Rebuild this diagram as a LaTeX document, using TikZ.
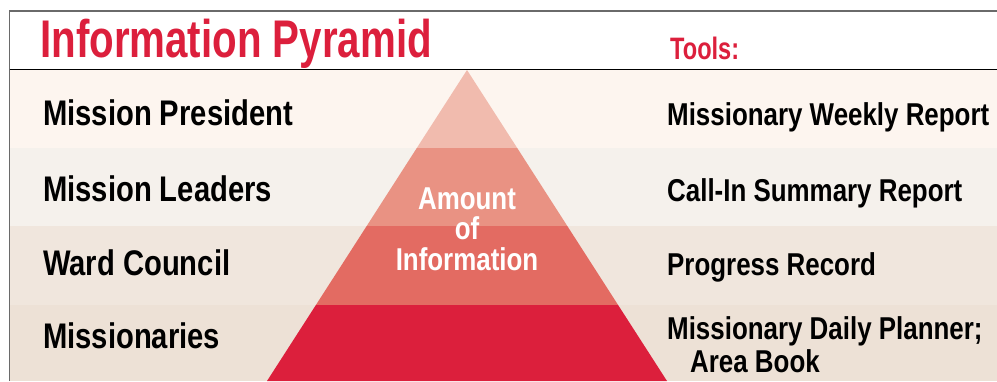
\documentclass[tikz,border=0pt]{standalone}
\usepackage{fontspec}
\newfontfamily\condT[FakeStretch=0.76]{Liberation Sans}
\newfontfamily\condL[FakeStretch=0.82]{Liberation Sans}
\definecolor{pred}{HTML}{DC1F3C}
\definecolor{bandA}{HTML}{FDF5EF}
\definecolor{bandB}{HTML}{F5F1EC}
\definecolor{bandC}{HTML}{F0E6DD}
\definecolor{bandD}{HTML}{EDE1D6}
\definecolor{tierA}{HTML}{F1BBAE}
\definecolor{tierB}{HTML}{E99283}
\definecolor{tierC}{HTML}{E36B62}
\definecolor{tierD}{HTML}{DC1F3C}
\definecolor{framegray}{HTML}{6A6A6A}
\tikzset{
  lbl/.style={anchor=base west, inner sep=0pt, text=black, font=\condL\bfseries\fontsize{35.6}{38}\selectfont},
  rlbl/.style={anchor=base west, inner sep=0pt, text=black, font=\condL\bfseries\fontsize{31.6}{34}\selectfont},
  amt/.style={anchor=base, inner sep=0pt, text=white, font=\condL\bfseries\fontsize{31.6}{34}\selectfont},
  ttl/.style={anchor=base west, inner sep=0pt, text=pred, font=\condT\bfseries\fontsize{53}{55}\selectfont},
  tools/.style={anchor=base west, inner sep=0pt, text=pred, font=\condT\bfseries\fontsize{31}{33}\selectfont},
}
\begin{document}
\begin{tikzpicture}[x=1pt,y=-1pt]
\useasboundingbox (0,0) rectangle (997,381);
\fill[white] (0,0) rectangle (997,381);
% bands
\fill[bandA] (10,69) rectangle (997,148);
\fill[bandB] (10,148) rectangle (997,226);
\fill[bandC] (10,226) rectangle (997,305);
\fill[bandD] (10,305) rectangle (997,381);
% pyramid
\fill[tierA] (467,70) -- (517.2,148) -- (416.8,148) -- cycle;
\fill[tierB] (416.8,148) -- (517.2,148) -- (567.3,226) -- (366.7,226) -- cycle;
\fill[tierC] (366.7,226) -- (567.3,226) -- (618.1,305) -- (315.9,305) -- cycle;
\fill[tierD] (315.9,305) -- (618.1,305) -- (667,381) -- (267,381) -- cycle;
% frame
\draw[framegray, line width=1.5pt] (9.5,381) -- (9.5,11) -- (997,11);
\draw[black, line width=1pt] (9.5,69) -- (997,69);
% titles
\node[ttl] (title) at (40,57) {Information Pyramid};
\node[tools] (tools) at (670,59) {Tools:};
% left labels
\node[lbl] (pres) at (43,125) {Mission President};
\node[lbl] (lead) at (43,201) {Mission Leaders};
\node[lbl] (ward) at (43,275) {Ward Council};
\node[lbl] (miss) at (43,348) {Missionaries};
% right labels
\node[rlbl] (weekly) at (667,125) {Missionary Weekly Report};
\node[rlbl] (callin) at (667,201) {Call-In Summary Report};
\node[rlbl] (prog) at (667,275) {Progress Record};
\node[rlbl] (daily) at (667,339) {Missionary Daily Planner;};
\node[rlbl] (area) at (690,372) {Area Book};
% pyramid text
\node[amt] (amount) at (467,209) {Amount};
\node[amt] (of) at (467,239) {of};
\node[amt] (info) at (467,270) {Information};
\end{tikzpicture}
\end{document}
